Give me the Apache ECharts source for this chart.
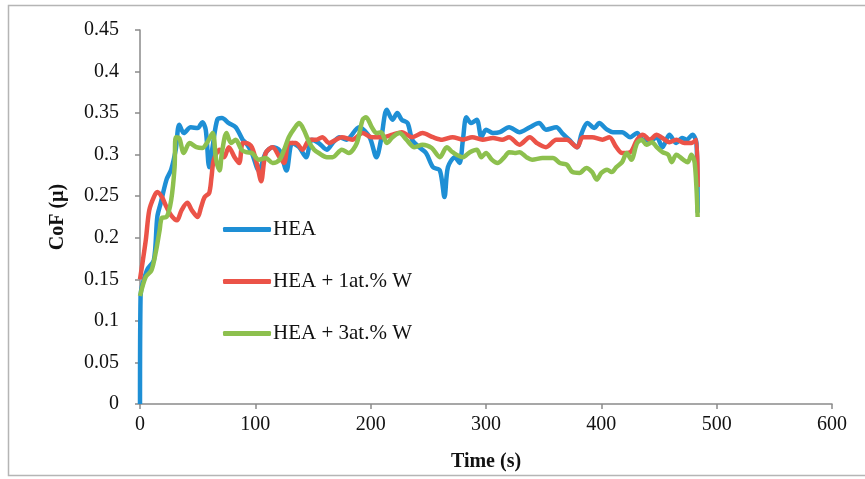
<!DOCTYPE html>
<html>
<head>
<meta charset="utf-8">
<script src="https://cdn.jsdelivr.net/npm/echarts@6/dist/echarts.min.js"></script>
<style>
  html, body { margin: 0; padding: 0; background: #fff; }
  #chart { width: 865px; height: 479px; }
</style>
</head>
<body>
<div id="chart"></div>
<script>
const seriesNames = ["HEA", "HEA + 1at.% W", "HEA + 3at.% W"];
const xTickLabels = ["0", "100", "200", "300", "400", "500", "600"];
const yTickLabels = ["0", "0.05", "0.1", "0.15", "0.2", "0.25", "0.3", "0.35", "0.4", "0.45"];

// HEA
const heaTime = [0, 0.5, 6, 12, 15, 18, 23, 27, 31, 34, 38, 44, 50, 54, 57, 60, 63, 67, 71, 77, 83, 89, 92, 97, 103, 109, 115, 121, 127, 132, 138, 144, 149, 155, 162, 167, 173, 179, 190, 199, 205, 209, 214, 219, 223, 227, 232, 236, 242, 248, 254, 260, 264, 267, 273, 277, 280, 283, 287, 292, 296, 300, 306, 312, 320, 329, 338, 346, 352, 361, 366, 372, 379, 383, 388, 394, 398, 405, 410, 418, 425, 431, 436, 444, 448, 453, 459, 465, 470, 474, 479, 482.5, 483.5];
const heaCoF = [0, 0.13, 0.161, 0.173, 0.225, 0.242, 0.27, 0.282, 0.306, 0.336, 0.326, 0.333, 0.332, 0.339, 0.33, 0.285, 0.31, 0.342, 0.344, 0.338, 0.333, 0.318, 0.314, 0.302, 0.281, 0.302, 0.309, 0.305, 0.281, 0.314, 0.309, 0.297, 0.318, 0.314, 0.306, 0.314, 0.321, 0.318, 0.333, 0.321, 0.297, 0.318, 0.354, 0.342, 0.35, 0.342, 0.338, 0.318, 0.309, 0.302, 0.285, 0.281, 0.249, 0.285, 0.297, 0.29, 0.318, 0.345, 0.338, 0.342, 0.321, 0.33, 0.326, 0.327, 0.333, 0.327, 0.333, 0.338, 0.33, 0.333, 0.326, 0.318, 0.309, 0.326, 0.338, 0.332, 0.338, 0.33, 0.327, 0.327, 0.321, 0.326, 0.318, 0.318, 0.321, 0.309, 0.324, 0.314, 0.32, 0.318, 0.324, 0.314, 0.23];

// HEA + 1at.% W
const w1Time = [0, 5, 8, 12, 15, 19, 23, 27, 32, 36, 41, 45, 50, 53, 56, 60, 62, 64, 69, 73, 77, 82, 86, 89, 92, 97, 102, 105, 109, 115, 121, 125, 129, 135, 141, 147, 153, 158, 164, 170, 175, 184, 193, 201, 210, 219, 227, 236, 245, 254, 262, 271, 280, 288, 297, 306, 314, 320, 329, 338, 344, 352, 361, 370, 379, 384, 392, 401, 407, 413, 418, 425, 431, 436, 442, 448, 453, 459, 465, 472, 478, 482.5, 483.5];
const w1CoF = [0.15, 0.197, 0.233, 0.249, 0.255, 0.249, 0.237, 0.227, 0.221, 0.233, 0.242, 0.233, 0.225, 0.237, 0.249, 0.254, 0.273, 0.294, 0.306, 0.297, 0.309, 0.297, 0.29, 0.314, 0.314, 0.309, 0.285, 0.268, 0.302, 0.309, 0.297, 0.29, 0.314, 0.314, 0.306, 0.318, 0.318, 0.321, 0.314, 0.318, 0.321, 0.318, 0.326, 0.321, 0.321, 0.324, 0.327, 0.321, 0.326, 0.321, 0.318, 0.321, 0.318, 0.321, 0.318, 0.32, 0.318, 0.321, 0.312, 0.321, 0.314, 0.309, 0.318, 0.318, 0.309, 0.321, 0.321, 0.318, 0.321, 0.309, 0.302, 0.303, 0.318, 0.324, 0.318, 0.324, 0.32, 0.315, 0.318, 0.314, 0.314, 0.318, 0.261];

// HEA + 3at.% W
const w3Time = [0, 5, 10, 14, 17, 19, 23, 27, 30, 31, 34, 38, 43, 49, 54, 58, 63, 66, 69, 71, 75, 79, 83, 88, 92, 97, 103, 109, 115, 121, 125, 129, 134, 138, 142, 147, 151, 155, 162, 167, 175, 181, 188, 193, 196, 201, 205, 209, 214, 219, 225, 231, 238, 245, 253, 260, 266, 271, 280, 286, 292, 296, 300, 305, 310, 316, 320, 325, 329, 335, 340, 349, 358, 364, 370, 375, 381, 387, 392, 396, 400, 405, 409, 413, 418, 422, 426, 431, 435, 439, 444, 448, 453, 458, 461, 465, 471, 475, 478, 481, 483.5];
const w3CoF = [0.13, 0.153, 0.161, 0.185, 0.209, 0.224, 0.225, 0.245, 0.285, 0.321, 0.32, 0.302, 0.314, 0.309, 0.308, 0.314, 0.326, 0.294, 0.281, 0.302, 0.326, 0.314, 0.318, 0.306, 0.303, 0.302, 0.294, 0.296, 0.29, 0.294, 0.306, 0.321, 0.332, 0.338, 0.33, 0.314, 0.306, 0.302, 0.297, 0.297, 0.306, 0.302, 0.314, 0.342, 0.345, 0.333, 0.326, 0.327, 0.314, 0.321, 0.326, 0.318, 0.309, 0.312, 0.308, 0.297, 0.309, 0.303, 0.297, 0.303, 0.306, 0.297, 0.302, 0.294, 0.29, 0.297, 0.303, 0.302, 0.303, 0.297, 0.294, 0.296, 0.296, 0.29, 0.288, 0.279, 0.278, 0.284, 0.279, 0.27, 0.278, 0.282, 0.279, 0.285, 0.291, 0.302, 0.294, 0.314, 0.318, 0.312, 0.315, 0.309, 0.303, 0.3, 0.291, 0.3, 0.294, 0.291, 0.3, 0.29, 0.225];

const colors = ["#1E8FD5", "#EB5348", "#8DC04E"];

function pairs(t, v) {
  return t.map((x, i) => [x, v[i]]);
}

const chart = echarts.init(document.getElementById("chart"));
const serif = "'Liberation Serif', 'Times New Roman', serif";

const mkSeries = (name, t, v, color) => ({
  name: name,
  type: "line",
  data: pairs(t, v),
  smooth: 0.3,
  symbol: "none",
  lineStyle: { width: 4.5, color: color },
  itemStyle: { color: color },
});

const option = {
  animation: false,
  backgroundColor: "#fff",
  graphic: [
    {
      type: "rect",
      shape: { x: 8.5, y: 5.5, width: 870, height: 470 },
      style: { fill: "none", stroke: "#b5b5b5", lineWidth: 1.5 },
      silent: true,
    },
  ],
  grid: { left: 140, right: 33, top: 30, bottom: 75 },
  legend: {
    orient: "vertical",
    left: 218,
    top: 214,
    itemGap: 31,
    itemWidth: 48,
    itemHeight: 5,
    icon: "roundRect",
    data: seriesNames,
    textStyle: { fontFamily: serif, fontSize: 21, color: "#111", padding: [0, 0, 0, -3] },
  },
  xAxis: {
    type: "value",
    min: 0,
    max: 600,
    interval: 100,
    name: "Time (s)",
    nameLocation: "middle",
    nameGap: 48,
    nameTextStyle: { fontFamily: serif, fontSize: 20, fontWeight: "bold", color: "#111" },
    axisLine: { lineStyle: { color: "#8a8a8a", width: 1.5 } },
    axisTick: { show: true, length: 5, lineStyle: { color: "#8a8a8a", width: 1.5 } },
    splitLine: { show: false },
    axisLabel: {
      margin: 11,
      fontFamily: serif,
      fontSize: 20,
      color: "#111",
      formatter: (v, i) => xTickLabels[i],
    },
  },
  yAxis: {
    type: "value",
    min: 0,
    max: 0.45,
    interval: 0.05,
    name: "CoF (µ)",
    nameLocation: "middle",
    nameGap: 72,
    nameTextStyle: { fontFamily: serif, fontSize: 20, fontWeight: "bold", color: "#111" },
    axisLine: { show: true, lineStyle: { color: "#8a8a8a", width: 1.5 } },
    axisTick: { show: true, length: 5, lineStyle: { color: "#8a8a8a", width: 1.5 } },
    splitLine: { show: false },
    axisLabel: {
      margin: 21,
      fontFamily: serif,
      fontSize: 20,
      color: "#111",
      formatter: (v, i) => yTickLabels[i],
    },
  },
  series: [
    mkSeries(seriesNames[0], heaTime, heaCoF, colors[0]),
    mkSeries(seriesNames[1], w1Time, w1CoF, colors[1]),
    mkSeries(seriesNames[2], w3Time, w3CoF, colors[2]),
  ],
};

chart.setOption(option);
</script>
</body>
</html>
